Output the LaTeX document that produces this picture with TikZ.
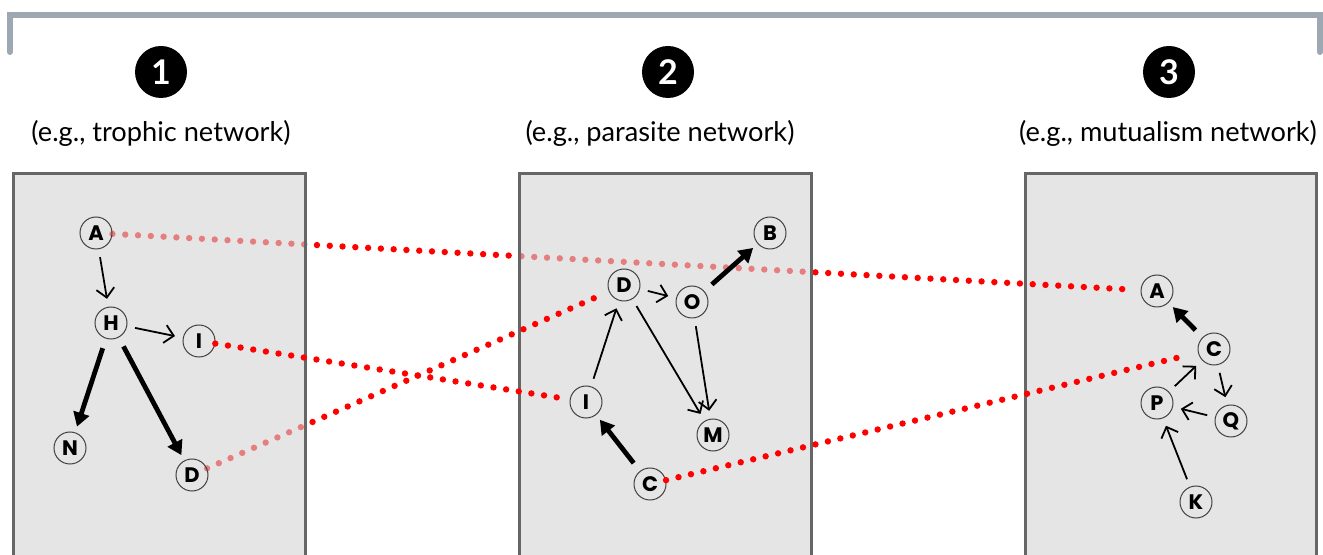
\documentclass[tikz,border=0pt]{standalone}
\usepackage{fontspec}
\setmainfont{Lato}
\newfontfamily\letterfont{Poppins}
\usetikzlibrary{arrows.meta}
\definecolor{brk}{HTML}{9DA8B3}
\pgfdeclarelayer{boxthree}
\pgfdeclarelayer{linesA}
\pgfdeclarelayer{boxtwo}
\pgfdeclarelayer{linesB}
\pgfdeclarelayer{boxone}
\pgfsetlayers{boxthree,linesA,boxtwo,linesB,boxone,main}
\tikzset{
  sp/.style={circle,draw=black!75,line width=0.5pt,minimum size=16pt,inner sep=0pt,
    font=\letterfont\bfseries\fontsize{10.5}{10.5}\selectfont},
  num/.style={circle,fill=black,text=white,minimum size=26pt,inner sep=0pt,
    font=\bfseries\fontsize{17}{17}\selectfont},
  captext/.style={font=\fontsize{13.6}{14}\selectfont},
  box/.style={draw=black!60,line width=1.5pt,fill=black!17,fill opacity=0.6},
  weak/.style={-{Straight Barb[length=4.5pt,width=9pt]},line width=0.9pt,shorten >=4pt,shorten <=4pt},
  strong/.style={-{Triangle[length=7pt,width=8pt]},line width=2.4pt,shorten >=3pt,shorten <=5pt},
  link/.style={red,line width=3.2pt,line cap=round,dash pattern=on 0pt off 6.4pt,shorten >=5pt}
}
\begin{document}
\begin{tikzpicture}[x=0.5pt,y=-0.5pt]
\useasboundingbox (0,0) rectangle (1323,555);
% bracket
\draw[brk,line width=3pt,line cap=round] (10,52) -- (10,15) -- (1330,15);
\draw[brk,line width=3pt,line cap=round] (1320,15) -- (1320,52);
% headings
\node[num] (n1) at (161,72) {1};
\node[num] (n2) at (668,72) {2};
\node[num] (n3) at (1169,72) {3};
\node[captext] (t1) at (161,133) {(e.g., trophic network)};
\node[captext] (t2) at (660,133) {(e.g., parasite network)};
\node[captext] (t3) at (1168,133) {(e.g., mutualism network)};
% boxes
\begin{pgfonlayer}{boxone}
\draw[box] (13,174) rectangle (305,575);
\end{pgfonlayer}
\begin{pgfonlayer}{boxtwo}
\draw[box] (519,174) rectangle (811,575);
\end{pgfonlayer}
\begin{pgfonlayer}{boxthree}
\draw[box] (1025,174) rectangle (1316,575);
\end{pgfonlayer}
% network 1
\node[sp] (A1) at (96,233) {A};
\node[sp] (H1) at (111,323) {H};
\node[sp] (I1) at (199,341) {I};
\node[sp] (N1) at (70,448) {N};
\node[sp] (D1) at (192,475) {D};
\path[weak] (A1) edge (H1);
\path[weak] (H1) edge (I1);
\path[strong] (H1) edge (N1);
\path[strong] (H1) edge (D1);
% network 2
\node[sp] (B2) at (770,233) {B};
\node[sp] (D2) at (624,285) {D};
\node[sp] (O2) at (692,302) {O};
\node[sp] (I2) at (586,402) {I};
\node[sp] (M2) at (713,435) {M};
\node[sp] (C2) at (650,484) {C};
\path[weak] (D2) edge (O2);
\path[strong] (O2) edge (B2);
\path[weak] (I2) edge (D2);
\path[weak] (D2) edge (M2);
\path[weak] (O2) edge (M2);
\path[strong] (C2) edge (I2);
% network 3
\node[sp] (A3) at (1157,291) {A};
\node[sp] (C3) at (1214,349) {C};
\node[sp] (P3) at (1157,403) {P};
\node[sp] (Q3) at (1231,421) {Q};
\node[sp] (K3) at (1196,502) {K};
\path[strong] (C3) edge (A3);
\path[weak] (P3) edge (C3);
\path[weak] (C3) edge (Q3);
\path[weak] (Q3) edge (P3);
\path[weak] (K3) edge (P3);
% links between networks
\begin{pgfonlayer}{linesA}
\path[link] (A1) edge (A3);
\end{pgfonlayer}
\begin{pgfonlayer}{linesB}
\path[link] (D1) edge (D2);
\end{pgfonlayer}
\path[link] (I1) edge (I2);
\path[link,shorten >=8pt] (C2) edge (C3);
\end{tikzpicture}
\end{document}
